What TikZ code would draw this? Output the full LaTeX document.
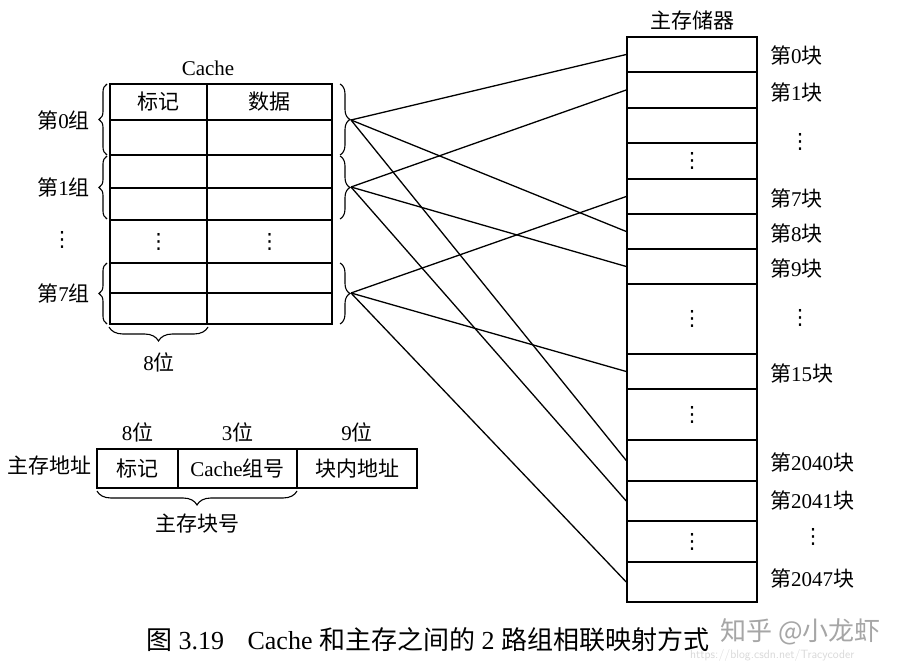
\documentclass[tikz,border=0pt]{standalone}
\usepackage{fontspec}
\setmainfont{Liberation Serif}
\newfontfamily\cjk{Noto Sans CJK SC}
\newfontfamily\dvfont{DejaVu Sans}
\usetikzlibrary{decorations.pathreplacing}
\newcommand\zh[1]{{\cjk #1}}
\newcommand\vd{{\dvfont ⋮}}
\begin{document}
\begin{tikzpicture}[x=1pt,y=-1pt,
  cell/.style={draw, line width=1.5pt, inner sep=0pt, font=\fontsize{21}{24}\selectfont},
  lbl/.style={font=\fontsize{21}{24}\selectfont, inner sep=0pt},
  conn/.style={line width=1.3pt},
  brc/.style={decorate, decoration={brace, amplitude=#1}, line width=1.1pt},
  brc/.default=8pt]
\useasboundingbox[fill=white] (0,0) rectangle (906,671);

% ---------- Cache ----------
\node[lbl] (cachetitle) at (208,68) {Cache};
\foreach \i/\t/\b/\ta/\da in {0/84/120/\zh{标记}/\zh{数据},1/120/155//,2/155/188//,3/188/220//,
  4/220/263/\vd/\vd,5/263/293//,6/293/324//}{
  \node[cell, minimum width=97pt, minimum height={\b-\t}] (ct\i) at (158.5,{(\t+\b)/2}) {\ta};
  \node[cell, minimum width=125pt, minimum height={\b-\t}] (cd\i) at (269.5,{(\t+\b)/2}) {\da};
}

% left braces and group labels
\draw[brc=8pt] (107,155) -- (107,84);
\draw[brc=8pt] (107,219) -- (107,156);
\draw[brc=8pt] (107,324) -- (107,263);
\node[lbl, anchor=east] (grp0) at (90,120) {\zh{第}0\zh{组}};
\node[lbl, anchor=east] (grp1) at (90,187) {\zh{第}1\zh{组}};
\node[lbl] (grpd) at (62,240) {\vd};
\node[lbl, anchor=east] (grp7) at (90,293) {\zh{第}7\zh{组}};

% right braces
\draw[brc=10pt] (340,84) -- (340,155);
\draw[brc=10pt] (340,156) -- (340,219);
\draw[brc=10pt] (340,263) -- (340,324);
\coordinate (g0) at (351,120);
\coordinate (g1) at (351,187);
\coordinate (g7) at (351,293);

% 8 bits brace
\draw[brc=14pt] (208,327) -- (109,327);
\node[lbl] (eightbit) at (159,362) {8\zh{位}};

% ---------- Main memory ----------
\node[lbl] (memtitle) at (692,21) {\zh{主存储器}};
\foreach \i/\t/\b/\tx in {0/37/72/,1/72/108/,2/108/143/,3/143/179/\vd,4/179/214/,5/214/249/,6/249/284/,
  7/284/354/\vd,8/354/389/,9/389/440/\vd,10/440/481/,11/481/521/,12/521/562/\vd,13/562/602/}{
  \node[cell, minimum width=130pt, minimum height={\b-\t}] (m\i) at (692,{(\t+\b)/2}) {\tx};
}

\node[lbl, anchor=west] (b0) at (770,55) {\zh{第}0\zh{块}};
\node[lbl, anchor=west] (b1) at (770,92) {\zh{第}1\zh{块}};
\node[lbl] (bd1) at (800,142) {\vd};
\node[lbl, anchor=west] (b7) at (770,198) {\zh{第}7\zh{块}};
\node[lbl, anchor=west] (b8) at (770,233) {\zh{第}8\zh{块}};
\node[lbl, anchor=west] (b9) at (770,268) {\zh{第}9\zh{块}};
\node[lbl] (bd2) at (800,318) {\vd};
\node[lbl, anchor=west] (b15) at (770,373) {\zh{第}15\zh{块}};
\node[lbl, anchor=west] (b2040) at (770,462) {\zh{第}2040\zh{块}};
\node[lbl, anchor=west] (b2041) at (770,500) {\zh{第}2041\zh{块}};
\node[lbl] (bd3) at (813,537) {\vd};
\node[lbl, anchor=west] (b2047) at (770,578) {\zh{第}2047\zh{块}};

% ---------- connectors ----------
\draw[conn] (g0) -- (m0.west);
\draw[conn] (g0) -- (m5.west);
\draw[conn] (g0) -- (m10.west);
\draw[conn] (g1) -- (m1.west);
\draw[conn] (g1) -- (m6.west);
\draw[conn] (g1) -- (m11.west);
\draw[conn] (g7) -- (m4.west);
\draw[conn] (g7) -- (m8.west);
\draw[conn] (g7) -- (m13.west);

% ---------- address format ----------
\node[cell, minimum width=81pt, minimum height=39pt] (a0) at (137.5,468.5) {\zh{标记}};
\node[cell, minimum width=119pt, minimum height=39pt] (a1) at (237.5,468.5) {Cache\zh{组号}};
\node[cell, minimum width=120pt, minimum height=39pt] (a2) at (357,468.5) {\zh{块内地址}};
\node[lbl] (w0) at (137.5,432) {8\zh{位}};
\node[lbl] (w1) at (237.5,432) {3\zh{位}};
\node[lbl] (w2) at (357,432) {9\zh{位}};
\node[lbl, anchor=east] (addr) at (92,466) {\zh{主存地址}};
\draw[brc=14pt] (297,491) -- (97,491);
\node[lbl] (blockno) at (197,524) {\zh{主存块号}};

% ---------- caption & watermark ----------
\node[anchor=west, inner sep=0pt, font=\fontsize{26}{30}\selectfont] (caption) at (146,640)
  {\zh{图} 3.19\hspace{0.9em}Cache \zh{和主存之间的} 2 \zh{路组相联映射方式}};
\node[anchor=west, inner sep=0pt, text=black!35, font=\fontsize{26}{30}\selectfont] (wm) at (720,632)
  {\zh{知乎 @小龙虾}};
\node[anchor=west, inner sep=0pt, text=black!15, font=\sffamily\fontsize{12}{14}\selectfont] (wm2) at (690,655)
  {https://blog.csdn.net/Tracycoder};
\end{tikzpicture}
\end{document}
